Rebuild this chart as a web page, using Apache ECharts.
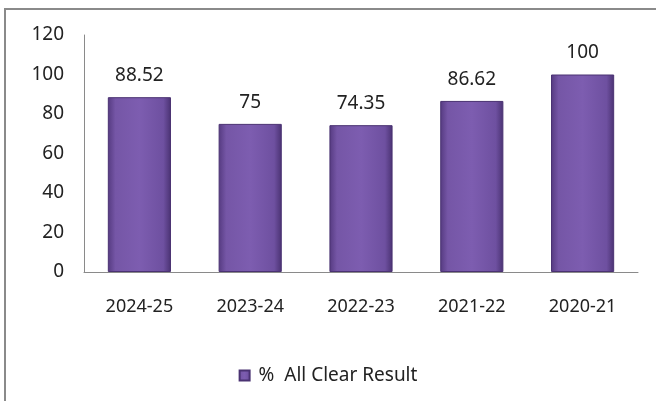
<!DOCTYPE html>
<html>
<head>
<meta charset="utf-8">
<script src="https://cdn.jsdelivr.net/npm/echarts@6/dist/echarts.min.js"></script>
<style>
html, body { margin: 0; padding: 0; background: #fff; }
#chart { width: 656px; height: 401px; }
</style>
</head>
<body>
<div id="chart"></div>
<script>
var years = ['2024-25', '2023-24', '2022-23', '2021-22', '2020-21'];
var allClear = [88.52, 75, 74.35, 86.62, 100];
var seriesName = '%  All Clear Result';

var chart = echarts.init(document.getElementById('chart'));

// cylinder-ish purple fill, darker at the edges
var barFill = new echarts.graphic.LinearGradient(0, 0, 1, 0, [
    { offset: 0, color: '#553a80' },
    { offset: 0.12, color: '#7556a6' },
    { offset: 0.5, color: '#7d5db0' },
    { offset: 0.88, color: '#6e50a0' },
    { offset: 1, color: '#4a3272' }
]);

var options = {
    animation: false,
    textStyle: { fontFamily: 'Noto Sans' },
    grid: {
        left: 84,
        right: 18,
        top: 35,
        bottom: 129
    },
    graphic: [{
        type: 'rect',
        shape: { x: 5, y: 9, width: 700, height: 500 },
        style: { fill: 'none', stroke: '#8a8a8a', lineWidth: 2 },
        silent: true
    }],
    legend: {
        data: [seriesName],
        top: 361,
        left: 'center',
        icon: 'rect',
        itemWidth: 10,
        itemHeight: 10,
        itemGap: 6,
        textStyle: { color: '#222', fontSize: 19, fontFamily: 'Noto Sans', padding: [0, 0, 0, 4] }
    },
    xAxis: [{
        type: 'category',
        data: years,
        axisLine: { show: true, lineStyle: { color: '#8a8a8a', width: 1 } },
        axisTick: { show: false },
        axisLabel: { color: '#222', fontSize: 18, margin: 26 }
    }],
    yAxis: [{
        type: 'value',
        min: 0,
        max: 120,
        interval: 20,
        axisLine: { show: true, lineStyle: { color: '#8a8a8a', width: 1 } },
        axisTick: { show: false },
        splitLine: { show: false },
        axisLabel: { color: '#222', fontSize: 19, margin: 20 }
    }],
    series: [{
        name: seriesName,
        type: 'bar',
        barWidth: '57%',
        data: allClear,
        itemStyle: {
            color: barFill,
            borderColor: '#4a3272',
            borderWidth: 1
        },
        label: {
            show: true,
            position: 'top',
            distance: 12,
            color: '#222',
            fontSize: 19
        }
    }]
};

chart.setOption(options);
</script>
</body>
</html>
